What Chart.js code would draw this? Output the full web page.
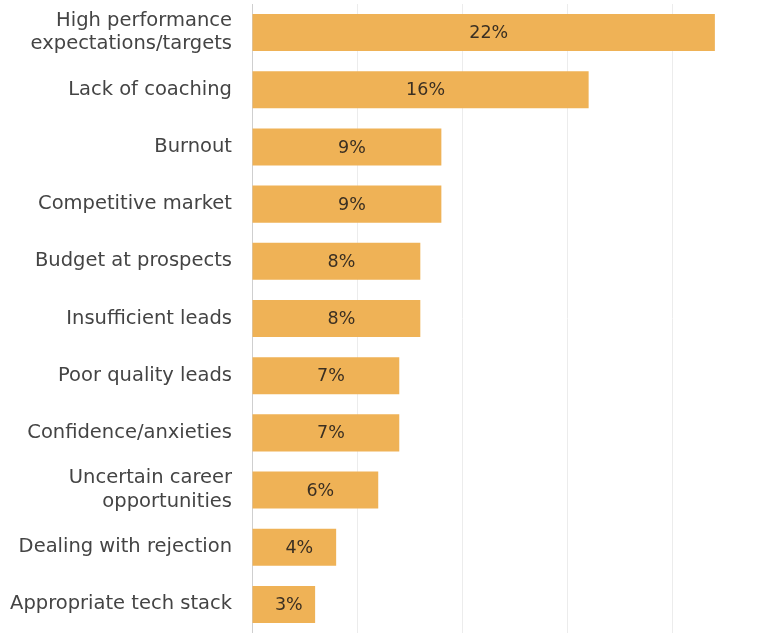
<!DOCTYPE html>
<html>
<head>
<meta charset="utf-8">
<script src="https://cdn.jsdelivr.net/npm/chart.js@4/dist/chart.umd.min.js"></script>
<style>
  html, body { margin: 0; padding: 0; background: #fff; overflow: hidden; }
  #wrap { width: 778px; height: 633px; }
</style>
</head>
<body>
<div id="wrap"><canvas id="chartCanvas"></canvas></div>
<script>
const categories = [
    ['High performance', 'expectations/targets'],
    'Lack of coaching',
    'Burnout',
    'Competitive market',
    'Budget at prospects',
    'Insufficient leads',
    'Poor quality leads',
    'Confidence/anxieties',
    ['Uncertain career', 'opportunities'],
    'Dealing with rejection',
    'Appropriate tech stack'
];
const values = [22, 16, 9, 9, 8, 8, 7, 7, 6, 4, 3];

// writes the percentage in the middle of each bar
const barLabels = {
    id: 'barLabels',
    afterDatasetsDraw(chart) {
        const ctx = chart.ctx;
        const meta = chart.getDatasetMeta(0);
        ctx.save();
        ctx.font = '500 17.5px "DejaVu Sans", sans-serif';
        ctx.fillStyle = '#3a2f22';
        ctx.textAlign = 'center';
        ctx.textBaseline = 'middle';
        meta.data.forEach((bar, i) => {
            const mid = (bar.x + bar.base) / 2 + 5;
            ctx.fillText(values[i] + '%', mid, bar.y + 1);
        });
        ctx.restore();
    }
};

new Chart(document.getElementById('chartCanvas'), {
    type: 'bar',
    data: {
        labels: categories,
        datasets: [{
            data: values,
            backgroundColor: '#efb256',
            barPercentage: 0.72,
            categoryPercentage: 0.9
        }]
    },
    options: {
        indexAxis: 'y',
        responsive: true,
        maintainAspectRatio: false,
        animation: false,
        layout: { padding: { top: 4, bottom: 0, left: 0, right: 0 } },
        plugins: {
            legend: { display: false },
            tooltip: { enabled: false }
        },
        scales: {
            x: {
                min: 0,
                max: 25,
                ticks: { display: false, stepSize: 5 },
                grid: { color: '#ececec', lineWidth: 1, drawTicks: false },
                border: { display: false },
                afterFit(scale) { scale.height = 0; }
            },
            y: {
                ticks: {
                    color: '#444',
                    padding: 20,
                    font: { family: '"DejaVu Sans", sans-serif', size: 19.5 }
                },
                grid: { display: false, drawTicks: false },
                border: { color: '#cfcfcf', width: 1 },
                afterFit(scale) {
                    scale.width = 252;
                    scale.paddingTop = 0;
                    scale.paddingBottom = 0;
                }
            }
        }
    },
    plugins: [barLabels]
});
</script>
</body>
</html>
